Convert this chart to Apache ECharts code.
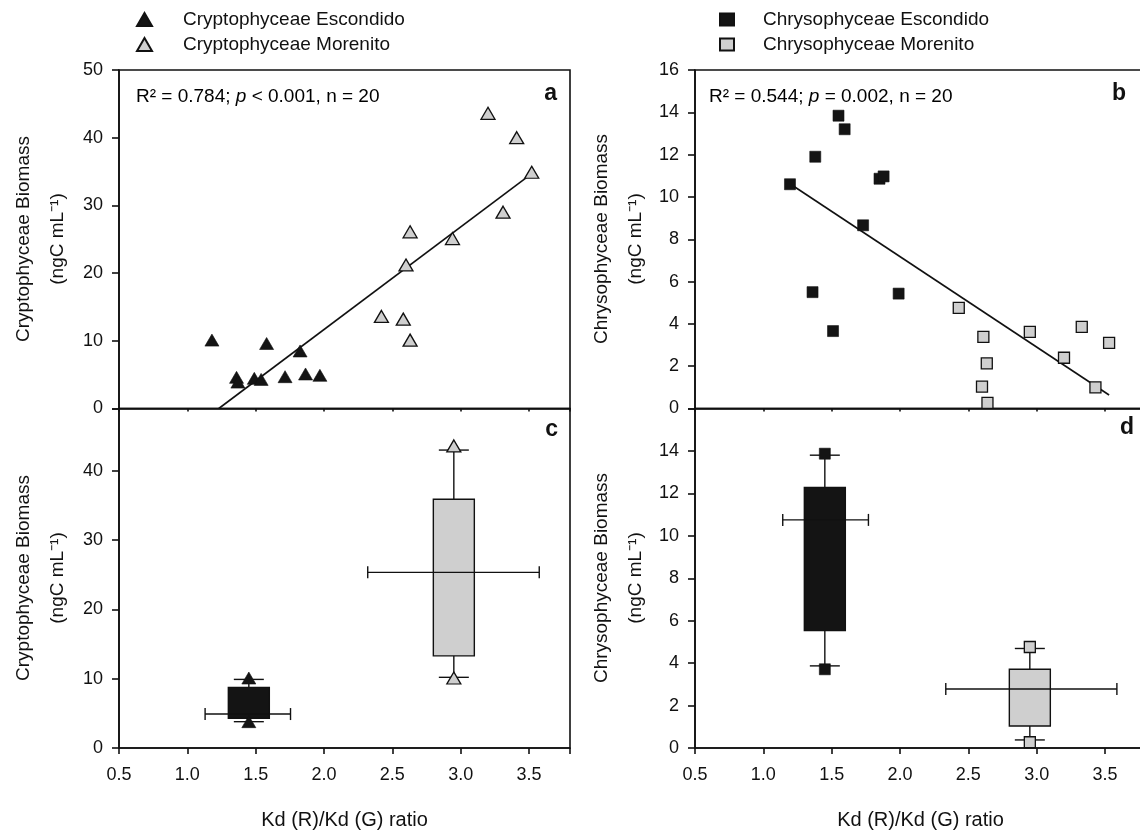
<!DOCTYPE html>
<html>
<head>
<meta charset="utf-8">
<title>Cryptophyceae and Chrysophyceae biomass vs Kd (R)/Kd (G)</title>
<script src="https://cdn.jsdelivr.net/npm/echarts@6/dist/echarts.min.js"></script>
<style>
  * { margin: 0; padding: 0; }
  html, body { overflow: hidden; }
  /* a bit wider than the window: panel b/d frames run off the right edge, as in the figure */
  #main { width: 1150px; height: 832px; }
</style>
</head>
<body>
<div id="main"></div>
<script>
// panel a - Cryptophyceae biomass (ngC/mL) against Kd(R)/Kd(G)
var cryptoEscondido = [[1.18, 10.1], [1.36, 4.6], [1.37, 3.9], [1.49, 4.45], [1.54, 4.3],
  [1.58, 9.6], [1.715, 4.7], [1.825, 8.5], [1.865, 5.1], [1.97, 4.9]];
var cryptoMorenito = [[2.42, 13.6], [2.58, 13.2], [2.60, 21.2], [2.63, 26.1], [2.63, 10.1],
  [2.94, 25.1], [3.20, 43.6], [3.31, 29.0], [3.41, 40.0], [3.52, 34.9]];
var cryptoFit = [[1.23, 0], [3.52, 34.7]];

// panel b - Chrysophyceae
var chrysoEscondido = [[1.195, 10.6], [1.36, 5.5], [1.38, 11.9], [1.51, 3.66], [1.55, 13.84],
  [1.595, 13.2], [1.73, 8.66], [1.85, 10.86], [1.88, 10.97], [1.99, 5.43]];
var chrysoMorenito = [[2.43, 4.76], [2.60, 1.03], [2.61, 3.39], [2.635, 2.13], [2.64, 0.27],
  [2.95, 3.62], [3.20, 2.40], [3.33, 3.86], [3.43, 1.0], [3.53, 3.10]];
var chrysoFit = [[1.2, 10.6], [3.53, 0.64]];

// panels c, d - box summaries: [x, q1, q3, whiskerLow, whiskerHigh, xLow, xHigh, yOfXBar]
var cryptoBoxEscondido = [1.45, 4.3, 8.75, 3.8, 9.9, 1.13, 1.755, 4.9];
var cryptoBoxMorenito = [2.95, 13.3, 35.9, 10.2, 43.0, 2.32, 3.575, 25.35];
var chrysoBoxEscondido = [1.45, 5.53, 12.28, 3.87, 13.8, 1.142, 1.769, 10.75];
var chrysoBoxMorenito = [2.95, 1.04, 3.71, 0.38, 4.69, 2.335, 3.587, 2.78];
// min / max points drawn on the boxes
var cryptoRangeEscondido = [[1.45, 3.8], [1.45, 10.1]];
var cryptoRangeMorenito = [[2.95, 10.1], [2.95, 43.6]];
var chrysoRangeEscondido = [[1.45, 3.71], [1.45, 13.87]];
var chrysoRangeMorenito = [[2.95, 0.27], [2.95, 4.76]];

var xTicks = [0.5, 1.0, 1.5, 2.0, 2.5, 3.0, 3.5];

var FONT = '"Liberation Sans", Arial, sans-serif';
var INK = '#111';
var DARK = '#141414';
var GREY = '#cfcfcf';
var lineStyle = {color: INK, width: 1.6};

function xAxisFor(gridIndex, withLabels) {
  return {
    type: 'value', gridIndex: gridIndex, min: 0.5, max: 3.8, interval: 0.5,
    splitLine: {show: false},
    axisLine: {onZero: false, lineStyle: lineStyle},
    axisTick: {show: true, length: withLabels ? 6 : 3, lineStyle: lineStyle},
    axisLabel: {
      show: withLabels, margin: 18, fontSize: 18, color: INK, fontFamily: FONT,
      formatter: function (v) {
        return xTicks.indexOf(Math.round(v * 10) / 10) >= 0 ? v.toFixed(1) : '';
      }
    },
    name: withLabels ? 'Kd (R)/Kd (G) ratio' : '',
    nameLocation: 'middle', nameGap: 62,
    nameTextStyle: {fontSize: 20, color: INK, fontFamily: FONT}
  };
}

function yAxisFor(gridIndex, max, interval, labelMax) {
  return {
    type: 'value', gridIndex: gridIndex, min: 0, max: max, interval: interval,
    splitLine: {show: false},
    axisLine: {show: true, onZero: false, lineStyle: lineStyle},
    axisTick: {show: true, length: 7, lineStyle: lineStyle},
    axisLabel: {
      margin: 16, fontSize: 18, color: INK, fontFamily: FONT,
      formatter: function (v) {
        return (v <= labelMax && v % interval === 0) ? String(v) : '';
      }
    }
  };
}

// box + whiskers + horizontal x-range bar
function boxRenderer(fill) {
  return function (params, api) {
    var x = api.value(0);
    var top = api.coord([x, api.value(2)]);
    var bot = api.coord([x, api.value(1)]);
    var lo = api.coord([x, api.value(3)]);
    var hi = api.coord([x, api.value(4)]);
    var hl = api.coord([api.value(5), api.value(7)]);
    var hr = api.coord([api.value(6), api.value(7)]);
    var half = 20.5, cap = 15, tick = 6;
    var st = {stroke: INK, lineWidth: 1.4};
    return {
      type: 'group',
      children: [
        {type: 'line', shape: {x1: hi[0], y1: hi[1], x2: top[0], y2: top[1]}, style: st},
        {type: 'line', shape: {x1: lo[0], y1: lo[1], x2: bot[0], y2: bot[1]}, style: st},
        {type: 'line', shape: {x1: hi[0] - cap, y1: hi[1], x2: hi[0] + cap, y2: hi[1]}, style: st},
        {type: 'line', shape: {x1: lo[0] - cap, y1: lo[1], x2: lo[0] + cap, y2: lo[1]}, style: st},
        {type: 'rect', shape: {x: top[0] - half, y: top[1], width: half * 2, height: bot[1] - top[1]},
          style: {fill: fill, stroke: INK, lineWidth: 1.4}},
        {type: 'line', shape: {x1: hl[0], y1: hl[1], x2: hr[0], y2: hr[1]}, style: st},
        {type: 'line', shape: {x1: hl[0], y1: hl[1] - tick, x2: hl[0], y2: hl[1] + tick}, style: st},
        {type: 'line', shape: {x1: hr[0], y1: hr[1] - tick, x2: hr[0], y2: hr[1] + tick}, style: st}
      ]
    };
  };
}

function points(name, data, idx, symbol, size, fill) {
  return {
    name: name, type: 'scatter', xAxisIndex: idx, yAxisIndex: idx, data: data,
    symbol: symbol, symbolSize: size, z: 4,
    itemStyle: {color: fill, opacity: 1, borderColor: INK, borderWidth: fill === GREY ? 1.3 : 0.6}
  };
}

function fitLine(data, idx) {
  return {
    type: 'line', xAxisIndex: idx, yAxisIndex: idx, data: data, symbol: 'none', z: 3,
    lineStyle: {color: INK, width: 1.6}
  };
}

function boxSeries(item, idx, fill) {
  return {
    type: 'custom', xAxisIndex: idx, yAxisIndex: idx, data: [item], z: 2,
    encode: {x: 0, y: [1, 2]}, renderItem: boxRenderer(fill)
  };
}

function yTitle(x, y, main) {
  return {
    type: 'text', x: x, y: y, rotation: Math.PI / 2,
    style: {
      text: main + '\n(ngC mL⁻¹)', align: 'center', verticalAlign: 'middle',
      font: '19px ' + FONT, lineHeight: 34, fill: INK
    }
  };
}

function statText(x, y, before, after) {
  return {
    type: 'text', x: x, y: y,
    style: {
      text: '{n|' + before + '}{i|p}{n|' + after + '}',
      verticalAlign: 'middle',
      rich: {
        n: {fontSize: 19, fontFamily: FONT, color: INK},
        i: {fontSize: 19, fontFamily: FONT, fontStyle: 'italic', color: INK}
      }
    }
  };
}

function panelLetter(x, y, t) {
  return {
    type: 'text', x: x, y: y,
    style: {text: t, align: 'right', verticalAlign: 'middle', font: 'bold 23px ' + FONT, fill: INK}
  };
}

var legendBase = {
  orient: 'vertical', top: 10, itemWidth: 14, itemHeight: 13, itemGap: 6, padding: 0,
  selectedMode: false,
  textStyle: {fontSize: 19, color: INK, fontFamily: FONT, padding: [0, 0, 0, 26]}
};

var chart = echarts.init(document.getElementById('main'));
chart.setOption({
  animation: false,
  backgroundColor: '#fff',
  textStyle: {fontFamily: FONT},
  legend: [
    Object.assign({}, legendBase, {left: 136, itemWidth: 15,
      data: ['Cryptophyceae Escondido', 'Cryptophyceae Morenito']}),
    Object.assign({}, legendBase, {left: 719, itemHeight: 12,
      textStyle: {fontSize: 19, color: INK, fontFamily: FONT, padding: [0, 0, 0, 24]},
      data: ['Chrysophyceae Escondido', 'Chrysophyceae Morenito']})
  ],
  grid: [
    {left: 119, top: 70, width: 451, height: 338.5, show: true, borderColor: INK, borderWidth: 1.6},
    {left: 695, top: 70, width: 451, height: 338.5, show: true, borderColor: INK, borderWidth: 1.6},
    {left: 119, top: 408.5, width: 451, height: 339.5, show: true, borderColor: INK, borderWidth: 1.6},
    {left: 695, top: 408.5, width: 451, height: 339.5, show: true, borderColor: INK, borderWidth: 1.6}
  ],
  xAxis: [xAxisFor(0, false), xAxisFor(1, false), xAxisFor(2, true), xAxisFor(3, true)],
  yAxis: [yAxisFor(0, 50, 10, 50), yAxisFor(1, 16, 2, 16), yAxisFor(2, 49, 10, 40), yAxisFor(3, 16, 2, 14)],
  series: [
    points('Cryptophyceae Escondido', cryptoEscondido, 0, 'triangle', [14, 12], DARK),
    points('Cryptophyceae Morenito', cryptoMorenito, 0, 'triangle', [14, 12], GREY),
    fitLine(cryptoFit, 0),
    points('Chrysophyceae Escondido', chrysoEscondido, 1, 'rect', 11, DARK),
    points('Chrysophyceae Morenito', chrysoMorenito, 1, 'rect', 11, GREY),
    fitLine(chrysoFit, 1),
    boxSeries(cryptoBoxEscondido, 2, DARK),
    boxSeries(cryptoBoxMorenito, 2, GREY),
    points('Crypto Escondido range', cryptoRangeEscondido, 2, 'triangle', [14, 12], DARK),
    points('Crypto Morenito range', cryptoRangeMorenito, 2, 'triangle', [14, 12], GREY),
    boxSeries(chrysoBoxEscondido, 3, DARK),
    boxSeries(chrysoBoxMorenito, 3, GREY),
    points('Chryso Escondido range', chrysoRangeEscondido, 3, 'rect', 11, DARK),
    points('Chryso Morenito range', chrysoRangeMorenito, 3, 'rect', 11, GREY)
  ],
  graphic: [
    yTitle(41, 239, 'Cryptophyceae Biomass'),
    yTitle(41, 578, 'Cryptophyceae Biomass'),
    yTitle(619, 239, 'Chrysophyceae Biomass'),
    yTitle(619, 578, 'Chrysophyceae Biomass'),
    statText(136, 97, 'R² = 0.784; ', ' < 0.001, n = 20'),
    statText(709, 97, 'R² = 0.544; ', ' = 0.002, n = 20'),
    panelLetter(557, 94, 'a'),
    panelLetter(1126, 94, 'b'),
    panelLetter(558, 430, 'c'),
    panelLetter(1134, 428, 'd')
  ]
});
</script>
</body>
</html>
